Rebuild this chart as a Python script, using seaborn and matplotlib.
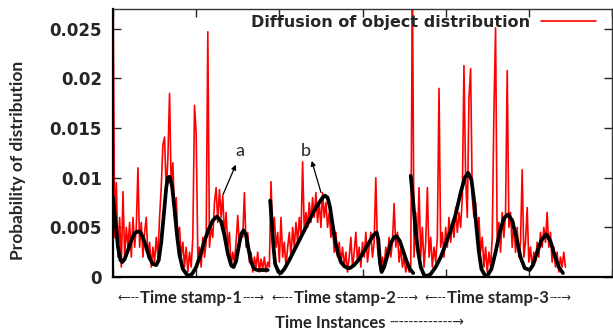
import numpy as np
import pandas as pd
import matplotlib
matplotlib.use("Agg")
import matplotlib.pyplot as plt
import seaborn as sns

# ---------------- data ----------------
red_step = 2
red_values = [
    0.030, 0.004, 0.0095, 0.002, 0.006, 0.001, 0.0086, 0.002, 0.005, 0.003,
    0.0055, 0.002, 0.006, 0.003, 0.005, 0.011, 0.003, 0.0055, 0.002, 0.0045,
    0.006, 0.002, 0.0035, 0.001, 0.003, 0.0015, 0.004, 0.002, 0.006, 0.009,
    0.0133, 0.0141, 0.0085, 0.012, 0.0185, 0.009, 0.0115, 0.006, 0.008, 0.004,
    0.005, 0.002, 0.0035, 0.001, 0.003, 0.0005, 0.0025, 0.001, 0.004, 0.0173,
    0.0145, 0.002, 0.003, 0.001, 0.004, 0.002, 0.0035, 0.0247, 0.003, 0.005,
    0.004, 0.0075, 0.009, 0.0055, 0.0088, 0.006, 0.0082, 0.004, 0.0065, 0.003,
    0.0045, 0.001, 0.0025, 0.0015, 0.0035, 0.0062, 0.003, 0.0045, 0.004, 0.0085,
    0.003, 0.0045, 0.0015, 0.0025, 0.0005, 0.002, 0.001, 0.0025, 0.0005, 0.0018,
    0.0008, 0.002, 0.0005, 0.0015,
    # segment 2
    0.001, 0.0096, 0.004, 0.006, 0.003, 0.0045, 0.0015, 0.006, 0.002, 0.0035,
    0.001, 0.003, 0.0045, 0.002, 0.005, 0.003, 0.0055, 0.0035, 0.006, 0.004,
    0.0116, 0.0045, 0.0065, 0.005, 0.0075, 0.0055, 0.008, 0.006, 0.0085, 0.0055,
    0.0075, 0.005, 0.0085, 0.006, 0.0075, 0.005, 0.0065, 0.004, 0.0055, 0.0025,
    0.0045, 0.002, 0.0035, 0.0015, 0.003, 0.001, 0.0025, 0.0005, 0.002, 0.004,
    0.001, 0.0025, 0.0045, 0.0015, 0.003, 0.001, 0.0035, 0.002, 0.0045, 0.0015,
    0.003, 0.0045, 0.002, 0.0035, 0.010, 0.003, 0.0015, 0.0005, 0.002, 0.001,
    0.003, 0.002, 0.004, 0.002, 0.0035, 0.0074, 0.003, 0.0045, 0.0015, 0.003,
    0.001, 0.002, 0.0005, 0.0015, 0.0005,
    # segment 3
    0.001, 0.030, 0.002, 0.0065, 0.003, 0.009, 0.002, 0.005, 0.001, 0.0035,
    0.009, 0.002, 0.004, 0.001, 0.003, 0.0015, 0.004, 0.019, 0.003, 0.0045,
    0.002, 0.005, 0.003, 0.006, 0.0035, 0.0055, 0.004, 0.007, 0.0045, 0.0065,
    0.005, 0.008, 0.0213, 0.010, 0.006, 0.018, 0.021, 0.008, 0.006, 0.0075,
    0.004, 0.006, 0.0025, 0.004, 0.001, 0.003, 0.0005, 0.0025, 0.001, 0.004,
    0.0165, 0.0251, 0.003, 0.0055, 0.0025, 0.0065, 0.004, 0.0065, 0.0208, 0.005,
    0.0065, 0.003, 0.0055, 0.0025, 0.005, 0.002, 0.0035, 0.0108, 0.002, 0.0035,
    0.007, 0.0015, 0.003, 0.001, 0.0025, 0.0015, 0.0035, 0.002, 0.0045, 0.003,
    0.005, 0.0035, 0.0065, 0.003, 0.0045, 0.0015, 0.003, 0.001, 0.0025, 0.0005,
    0.002, 0.001, 0.0025, 0.001,
]

fit1_x = [0, 3, 6, 9, 11, 14, 18, 22, 26, 30, 33, 36, 40, 44, 48, 52, 55, 58,
          61, 64, 66, 68, 71, 74, 77, 80, 84, 90, 95, 100, 105, 110, 115, 120,
          125, 130, 134, 138, 142, 145, 148, 151, 154, 157, 160, 163, 166, 170,
          174, 180, 186]
fit1_y = [0.0080, 0.0055, 0.0030, 0.0017, 0.0015, 0.0018, 0.0027, 0.0037,
          0.0044, 0.0046, 0.0045, 0.0040, 0.0030, 0.0019, 0.0013, 0.0012,
          0.0017, 0.0035, 0.0062, 0.0090, 0.0100, 0.0101, 0.0092, 0.0068,
          0.0042, 0.0022, 0.0008, 0.0001, 0.0003, 0.0010, 0.0022, 0.0036,
          0.0048, 0.0057, 0.0061, 0.0056, 0.0042, 0.0024, 0.0012, 0.0010,
          0.0016, 0.0030, 0.0043, 0.0047, 0.0042, 0.0028, 0.0015, 0.0008,
          0.0007, 0.0007, 0.0007]

fit2_x = [189, 191, 193, 195, 199, 202, 206, 212, 218, 224, 230, 236, 242,
          248, 252, 255, 258, 261, 264, 267, 270, 274, 278, 282, 285, 290,
          296, 302, 308, 313, 317, 319, 321, 323, 326, 330, 334, 338, 341,
          345, 349, 353, 357, 361]
fit2_y = [0.0077, 0.0055, 0.0030, 0.0013, 0.0005, 0.0004, 0.0008, 0.0017,
          0.0027, 0.0037, 0.0047, 0.0057, 0.0067, 0.0075, 0.0080, 0.0082,
          0.0080, 0.0070, 0.0053, 0.0037, 0.0025, 0.0015, 0.0011, 0.0009,
          0.0009, 0.0012, 0.0018, 0.0026, 0.0035, 0.0042, 0.0045, 0.0038,
          0.0015, 0.0005, 0.0010, 0.0022, 0.0034, 0.0040, 0.0041, 0.0036,
          0.0026, 0.0016, 0.0008, 0.0004]

fit3_x = [358, 360, 362, 364, 367, 370, 374, 378, 382, 388, 394, 400, 406,
          412, 418, 423, 427, 431, 434, 437, 440, 443, 447, 450, 455, 460,
          465, 470, 475, 480, 485, 490, 495, 501, 505, 510, 515, 521, 526,
          531, 536, 541]
fit3_y = [0.0102, 0.0085, 0.0065, 0.0045, 0.0025, 0.0010, 0.0002, 0.0001,
          0.0003, 0.0010, 0.0020, 0.0033, 0.0047, 0.0063, 0.0085, 0.0100,
          0.0105, 0.0098, 0.0078, 0.0050, 0.0025, 0.0008, 0.0002, 0.0001,
          0.0008, 0.0025, 0.0045, 0.0059, 0.0063, 0.0057, 0.0040, 0.0020,
          0.0009, 0.0007, 0.0012, 0.0025, 0.0037, 0.0043, 0.0036, 0.0022,
          0.0010, 0.0004]

y_ticks = [0, 0.005, 0.01, 0.015, 0.02, 0.025]
y_tick_labels = ["0", "0.005", "0.01", "0.015", "0.02", "0.025"]
x_ticks = [0, 100, 200, 300, 400, 500, 600]
legend_label = "Diffusion of object distribution"
stamp_labels = ["Time stamp-1", "Time stamp-2", "Time stamp-3"]
stamp_centers_px = [191, 345, 498]

# ---------------- figure ----------------
sns.set_style("ticks")
plt.rcParams["font.family"] = ["DejaVu Sans"]

W, H = 613, 334
fig = plt.figure(figsize=(W / 100, H / 100), dpi=100)
ax = fig.add_axes([113 / W, (H - 277) / H, (612 - 113) / W, (277 - 9) / H])

red_df = pd.DataFrame({
    "x": np.arange(len(red_values)) * red_step,
    "y": red_values,
})
sns.lineplot(data=red_df, x="x", y="y", ax=ax, color="#ff0000", lw=1.2,
             label=legend_label, sort=False)

for fx, fy in [(fit1_x, fit1_y), (fit2_x, fit2_y), (fit3_x, fit3_y)]:
    df = pd.DataFrame({"x": fx, "y": fy})
    sns.lineplot(data=df, x="x", y="y", ax=ax, color="black", lw=2.7,
                 sort=False, legend=False)

ax.set_xlim(0, 600)
ax.set_ylim(0, 0.027)
ax.set_xticks(x_ticks)
ax.set_xticklabels([])
ax.set_yticks(y_ticks)
ax.set_yticklabels(y_tick_labels, fontweight="bold", fontsize=12)
ax.tick_params(direction="in", top=True, right=True, length=6, width=1,
               pad=8)
ax.set_xlabel("")
ax.set_ylabel("")
for s in ["left", "bottom"]:
    ax.spines[s].set_linewidth(1.6)
    ax.spines[s].set_color("black")
for s in ["top", "right"]:
    ax.spines[s].set_linewidth(1.0)
    ax.spines[s].set_color("#333333")

leg = ax.legend(loc="upper right", bbox_to_anchor=(0.985, 1.012),
                frameon=False, markerfirst=False, handlelength=3.4,
                handletextpad=0.7, borderaxespad=0.15,
                prop={"weight": "bold", "size": 11.5})

# annotations a and b
ax.annotate("", xy=(149, 0.01157), xytext=(131, 0.00805),
            arrowprops=dict(arrowstyle="-|>", color="black", lw=0.9,
                            mutation_scale=7))
ax.text(153, 0.0127, "a", fontsize=13, ha="center", va="center",
        family=["Lato", "DejaVu Sans"])
ax.annotate("", xy=(238, 0.01197), xytext=(251, 0.00825),
            arrowprops=dict(arrowstyle="-|>", color="black", lw=0.9,
                            mutation_scale=7))
ax.text(232, 0.0127, "b", fontsize=13, ha="center", va="center",
        family=["Lato", "DejaVu Sans"])

# y label
fig.text(18 / W, 1 - 160 / H, "Probability of distribution", rotation=90,
         ha="center", va="center", fontsize=12.5, fontweight="bold",
         family=["Lato", "DejaVu Sans"])

# time stamp labels with small dashed arrows
fam = ["Lato", "DejaVu Sans"]
row1_y = 1 - 298 / H
fs = 12
for lab, cx in zip(stamp_labels, stamp_centers_px):
    t = fig.text(cx / W, row1_y, lab, ha="center", va="center",
                 fontsize=fs, fontweight="bold", family=fam)
    ax.annotate("\u2190---", xy=(0, 0.5), xycoords=t, xytext=(-0.5, 0.5),
                textcoords="offset points", ha="right", va="center",
                fontsize=8.3, family=["DejaVu Sans"], annotation_clip=False)
    ax.annotate("---\u2192", xy=(1, 0.5), xycoords=t, xytext=(0.5, 0.5),
                textcoords="offset points", ha="left", va="center",
                fontsize=8.3, family=["DejaVu Sans"], annotation_clip=False)

t2 = fig.text(275 / W, 1 - 323 / H, "Time Instances", ha="left",
              va="center", fontsize=fs, fontweight="bold", family=fam)
ax.annotate("-------------\u2192", xy=(1, 0.5), xycoords=t2,
            xytext=(3, 0.5), textcoords="offset points", ha="left",
            va="center", fontsize=10, family=["DejaVu Sans"],
            annotation_clip=False)

fig.savefig("out.png", dpi=100)
